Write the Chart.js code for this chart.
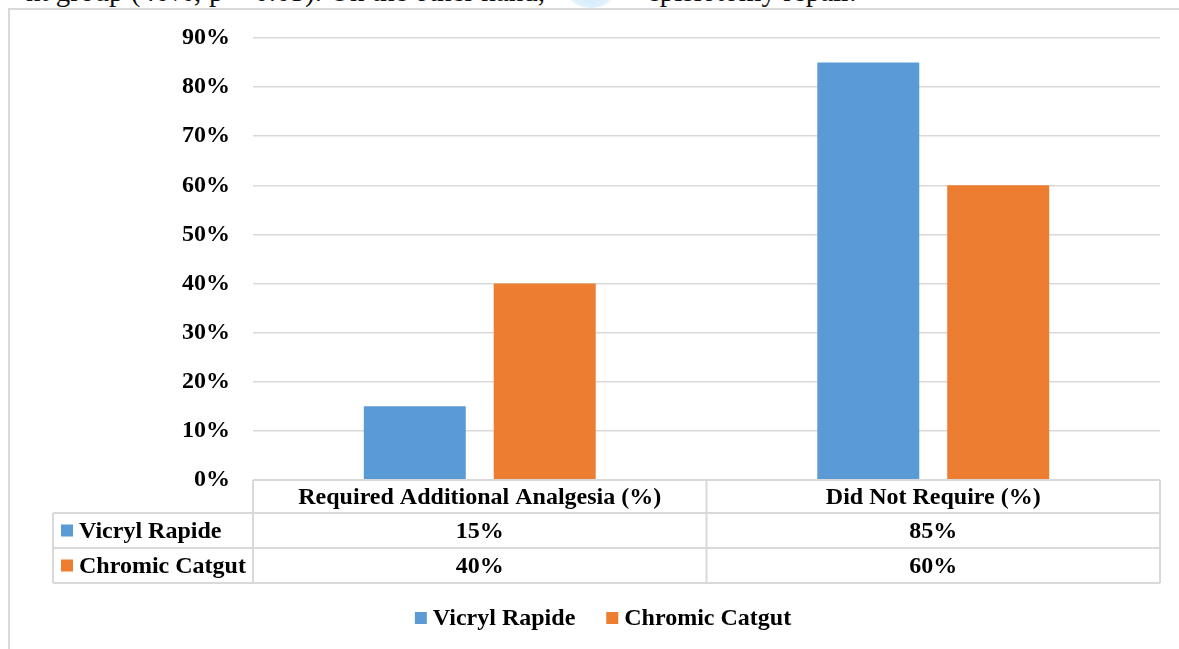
<!DOCTYPE html>
<html>
<head>
<meta charset="utf-8">
<script src="https://cdn.jsdelivr.net/npm/chart.js@4/dist/chart.umd.min.js"></script>
<style>
  html, body { margin: 0; padding: 0; background: #fff; }
  body { width: 1179px; height: 649px; position: relative; overflow: hidden; }
  .topline { position: absolute; left: 0; top: 0; width: 1179px; height: 8px; overflow: hidden; }
  .topline span { position: absolute; top: -23px; font: 29px/29px "Liberation Serif", serif; color: #111; white-space: nowrap; }
  .blob { position: absolute; left: 568px; top: -22px; width: 46px; height: 30px; border-radius: 50%;
          background: radial-gradient(circle, #cfe9fb 0%, #dff1fd 60%, rgba(255,255,255,0) 100%); }
  .frame { position: absolute; left: 8px; top: 8px; width: 1200px; height: 700px;
           border-left: 2px solid #d9d9d9; border-top: 2px solid #d9d9d9; }
  #wrap { position: absolute; left: 0; top: 0; width: 1179px; height: 649px; }
</style>
</head>
<body>
<div class="topline">
  <span style="right: 634px;">nt group (40%; p = 0.05). On the other hand,</span>
  <div class="blob"></div>
  <span style="left: 647px;">episiotomy repair.</span>
</div>
<div class="frame"></div>
<div id="wrap"><canvas id="chart" width="1179" height="649"></canvas></div>
<script>
// data
const categories = ['Required Additional Analgesia (%)', 'Did Not Require (%)'];
const seriesNames = ['Vicryl Rapide', 'Chromic Catgut'];
const vicryl = [15, 85];
const chromic = [40, 60];
const seriesColors = ['#5b9bd5', '#ed7d31'];
const yMax = 90;
const yStep = 10;

const FONT = '"Liberation Serif", "Times New Roman", serif';
const lineCol = '#d9d9d9';

// draws the data table under the plot and the legend at the bottom
const tablePlugin = {
    id: 'dataTable',
    afterDraw(chart) {
        const ctx = chart.ctx;
        const xs = chart.scales.x;
        const area = chart.chartArea;
        const colW = (area.right - area.left) / categories.length;
        const top = area.bottom;
        const rowH = [33, 35, 35];
        const y1 = top + rowH[0];
        const y2 = y1 + rowH[1];
        const y3 = y2 + rowH[2];
        const labelLeft = 53;

        ctx.save();
        ctx.strokeStyle = lineCol;
        ctx.lineWidth = 2;
        ctx.beginPath();
        // horizontal lines
        ctx.moveTo(area.left, top); ctx.lineTo(area.right, top);
        ctx.moveTo(labelLeft, y1); ctx.lineTo(area.right, y1);
        ctx.moveTo(labelLeft, y2); ctx.lineTo(area.right, y2);
        ctx.moveTo(labelLeft, y3); ctx.lineTo(area.right, y3);
        // vertical lines
        ctx.moveTo(labelLeft, y1); ctx.lineTo(labelLeft, y3);
        for (let i = 0; i <= categories.length; i++) {
            const x = area.left + i * colW;
            ctx.moveTo(x, top); ctx.lineTo(x, y3);
        }
        ctx.stroke();

        ctx.fillStyle = '#000';
        ctx.font = 'bold 24px ' + FONT;
        ctx.textBaseline = 'middle';
        ctx.textAlign = 'center';
        categories.forEach((c, i) => {
            const cx = xs.getPixelForValue(i);
            ctx.fillText(c, cx, top + rowH[0] / 2 + 1);
        });
        const rows = [vicryl, chromic];
        const rowMid = [y1 + rowH[1] / 2 + 1, y2 + rowH[2] / 2 + 1];
        rows.forEach((vals, r) => {
            ctx.textAlign = 'center';
            vals.forEach((v, i) => {
                ctx.fillText(v + '%', xs.getPixelForValue(i), rowMid[r]);
            });
            ctx.fillStyle = seriesColors[r];
            ctx.fillRect(61, rowMid[r] - 7, 12, 12);
            ctx.fillStyle = '#000';
            ctx.textAlign = 'left';
            ctx.fillText(seriesNames[r], 79, rowMid[r]);
        });

        // legend
        const gap = 31, boxW = 12, boxGap = 6;
        const widths = seriesNames.map(n => boxW + boxGap + ctx.measureText(n).width);
        const total = widths.reduce((a, b) => a + b, 0) + gap * (seriesNames.length - 1);
        let x = 603 - total / 2;
        const ly = 619;
        seriesNames.forEach((n, i) => {
            ctx.fillStyle = seriesColors[i];
            ctx.fillRect(x, ly - 7, boxW, boxW);
            ctx.fillStyle = '#000';
            ctx.textAlign = 'left';
            ctx.fillText(n, x + boxW + boxGap, ly);
            x += widths[i] + gap;
        });
        ctx.restore();
    }
};

new Chart(document.getElementById('chart').getContext('2d'), {
    type: 'bar',
    data: {
        labels: categories,
        datasets: [
            { label: seriesNames[0], data: vicryl, backgroundColor: seriesColors[0] },
            { label: seriesNames[1], data: chromic, backgroundColor: seriesColors[1] }
        ]
    },
    options: {
        responsive: false,
        animation: false,
        devicePixelRatio: 1,
        categoryPercentage: 0.573,
        barPercentage: 0.785,
        layout: { padding: { top: 38, right: 19, bottom: 0, left: 0 } },
        plugins: {
            legend: { display: false },
            tooltip: { enabled: false }
        },
        scales: {
            x: {
                grid: { display: false },
                border: { display: false },
                ticks: { display: false },
                afterFit(scale) { scale.height = 169; }
            },
            y: {
                min: 0,
                max: yMax,
                grid: { color: lineCol, lineWidth: 1.5, drawTicks: false },
                border: { display: false },
                ticks: {
                    stepSize: yStep,
                    padding: 23,
                    color: '#000',
                    font: { family: FONT, size: 24, weight: 'bold' },
                    callback: v => v + '%'
                },
                afterFit(scale) { scale.width = 253; }
            }
        }
    },
    plugins: [tablePlugin]
});
</script>
</body>
</html>
